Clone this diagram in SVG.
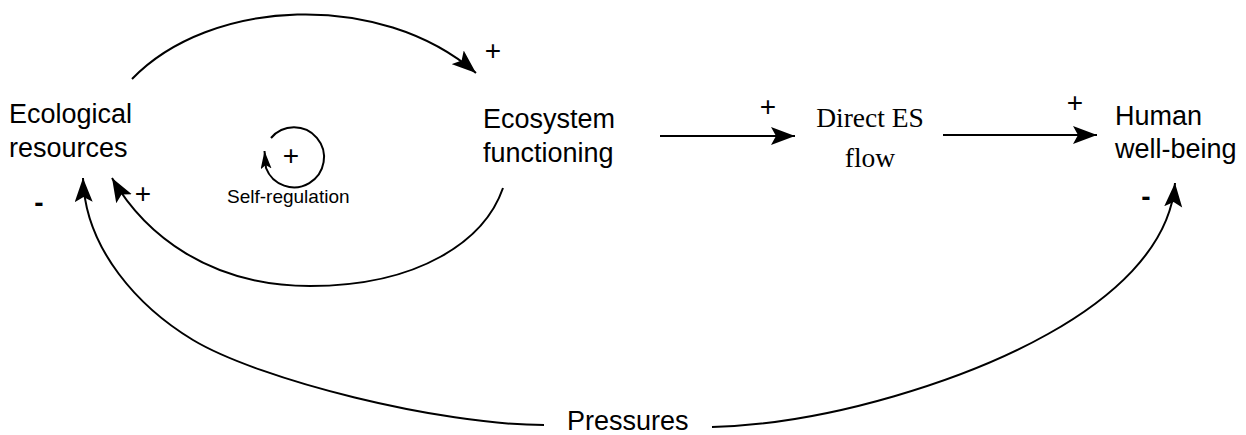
<svg xmlns="http://www.w3.org/2000/svg" width="1246" height="435" viewBox="0 0 1246 435">
  <style>
    .lbl { font-family: "Liberation Sans", Arial, sans-serif; font-size: 27px; fill: #000; }
    .serif { font-family: "Liberation Serif", "Times New Roman", serif; font-size: 27.5px; fill: #000; }
    .small { font-family: "Liberation Sans", Arial, sans-serif; font-size: 19px; fill: #000; }
    .sign { font-family: "Liberation Sans", Arial, sans-serif; font-size: 28px; fill: #000; text-anchor: middle; }
    .minus { font-family: "Liberation Sans", Arial, sans-serif; font-size: 28px; font-weight: bold; fill: #000; text-anchor: middle; }
    .con { fill: none; stroke: #000; stroke-width: 2; }
  </style>
  <defs>
    <marker id="arrow" markerUnits="userSpaceOnUse" markerWidth="25" markerHeight="19" refX="24" refY="9" orient="auto" viewBox="0 0 25 19">
      <path d="M0,0 L24,9 L0,18 L5,9 z" fill="#000"/>
    </marker>
    <marker id="arrowSmall" markerUnits="userSpaceOnUse" markerWidth="19" markerHeight="12" refX="18" refY="5.5" orient="auto" viewBox="0 0 19 12">
      <path d="M0,0 L18,5.5 L0,11 L4,5.5 z" fill="#000"/>
    </marker>
  </defs>
  <rect width="1246" height="435" fill="#fff"/>

  <g id="connectors">
    <path class="con" d="M132,79 C210,-2 380,-10 476,73" marker-end="url(#arrow)"/>
    <path class="con" d="M660,136 L795,136" marker-end="url(#arrow)"/>
    <path class="con" d="M943,135 L1097,135" marker-end="url(#arrow)"/>
    <path class="con" d="M503,188 C485,240 420,286 310,286 C210,286 145,235 112,178" marker-end="url(#arrow)"/>
    <path class="con" d="M544,425 C440,425 260,380 193,340 C140,308 85,250 83,178" marker-end="url(#arrow)"/>
    <path class="con" d="M712,427 C830,424 968,379 1048,334 C1108,300.5 1170,250 1175,183" marker-end="url(#arrow)"/>
    <path class="con" d="M271,138 A30,30 0 1 1 266,168 L264.5,151" marker-end="url(#arrowSmall)"/>
  </g>

  <g id="polarity-labels">
    <text class="sign" x="493" y="60">+</text>
    <text class="sign" x="768" y="116">+</text>
    <text class="sign" x="1075" y="112">+</text>
    <text class="sign" x="143" y="203">+</text>
    <text class="sign" x="291" y="165">+</text>
    <text class="minus" x="39" y="212">-</text>
    <text class="minus" x="1146" y="206">-</text>
  </g>

  <g id="ecological-resources">
    <text class="lbl" x="9" y="123">Ecological</text>
    <text class="lbl" x="9" y="157">resources</text>
  </g>
  <g id="ecosystem-functioning">
    <text class="lbl" x="483" y="128">Ecosystem</text>
    <text class="lbl" x="483" y="162">functioning</text>
  </g>
  <g id="direct-es-flow">
    <text class="serif" x="870" y="127" text-anchor="middle">Direct ES</text>
    <text class="serif" x="870" y="167" text-anchor="middle">flow</text>
  </g>
  <g id="human-well-being">
    <text class="lbl" x="1115" y="125">Human</text>
    <text class="lbl" x="1115" y="158">well-being</text>
  </g>
  <g id="self-regulation">
    <text class="small" x="227" y="203">Self-regulation</text>
  </g>
  <g id="pressures">
    <text class="lbl" x="567" y="430">Pressures</text>
  </g>
</svg>
